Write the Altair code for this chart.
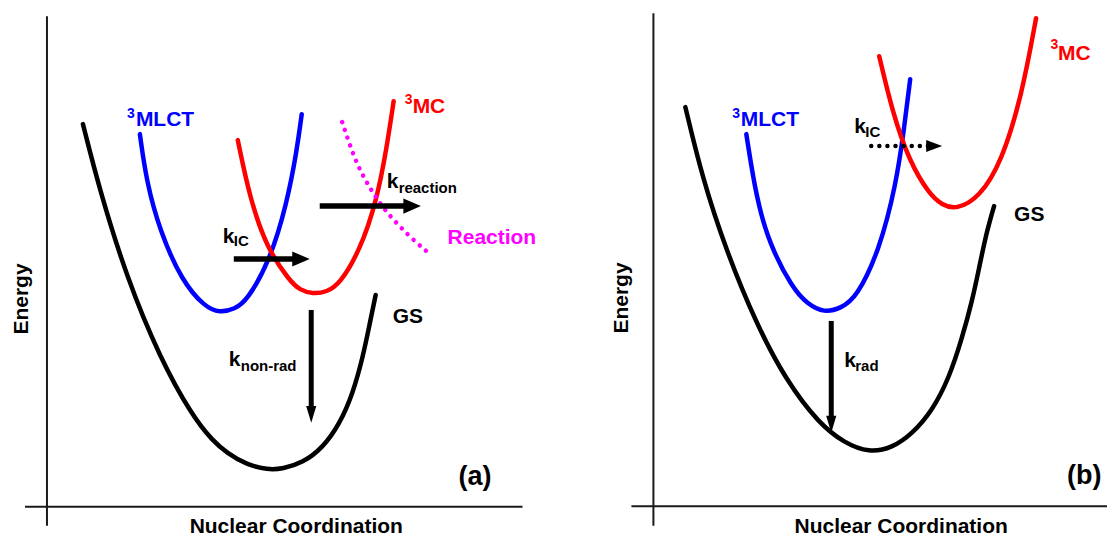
import altair as alt
import pandas as pd

# ---------------- Panel (a) values (Nuclear coordinate q, Energy e; arbitrary units) ----------------
gs_a_q = [7.2, 10.6, 16.0, 22.6, 29.2, 33.2, 36.0, 40.0, 44.2, 47.2, 51.2, 55.2, 58.6, 61.2, 63.2, 64.6, 65.8]
gs_a_e = [76.6, 63.2, 45.8, 29.8, 18.0, 13.2, 10.8, 8.4, 7.4, 7.6, 8.8, 11.8, 16.6, 22.6, 29.8, 36.6, 42.4]
mlct_a_q = [18.6, 19.9, 22.6, 27.0, 31.6, 34.6, 37.6, 40.0, 44.6, 48.0, 50.0, 51.0]
mlct_a_e = [74.6, 65.2, 55.2, 45.2, 40.0, 38.8, 39.6, 41.2, 49.2, 60.6, 71.2, 78.6]
mc_a_q = [38.2, 40.6, 44.0, 48.6, 50.6, 53.2, 56.0, 58.6, 62.6, 66.0, 68.0, 69.4]
mc_a_e = [73.4, 61.8, 51.8, 45.2, 43.4, 42.6, 43.0, 44.6, 51.2, 61.2, 71.8, 81.2]
rxn_a_q = [59.1, 60.6, 62.3, 64.6, 67.1, 70.5, 73.9, 76.3]
rxn_a_e = [77.0, 72.5, 68.0, 63.9, 60.0, 56.2, 52.9, 50.9]

# horizontal arrows: start q, tip q, e ; vertical arrows: q, start e, tip e
harrow_a_q0 = [37.4, 54.6]
harrow_a_q1 = [52.6, 75.0]
harrow_a_e = [49.6, 60.2]
varrow_a_q = [52.9]
varrow_a_e0 = [39.4]
varrow_a_e1 = [16.8]

lab_a_text = ["MLCT", "MC", "Reaction", "GS"]
lab_a_q = [17.8, 73.2, 80.2, 69.2]
lab_a_e = [76.2, 78.8, 52.6, 36.8]
lab_a_col = ["#0000ff", "#ff0000", "#ff00ff", "#000000"]
sup_a_q = [16.0, 71.6]
sup_a_e = [77.8, 80.6]
sup_a_col = ["#0000ff", "#ff0000"]
k_a_q = [35.2, 68.0, 36.4]
k_a_e = [52.8, 63.8, 28.2]
sub_a_text = ["IC", "reaction", "non-rad"]
sub_a_q = [37.4, 70.4, 38.8]
sub_a_e = [52.2, 62.8, 27.2]

# ---------------- Panel (b) values ----------------
gs_b_q = [6.4, 9.8, 14.6, 20.6, 26.6, 33.2, 38.2, 43.2, 47.8, 51.8, 55.8, 59.2, 61.8, 63.8, 65.2, 66.6, 68.2]
gs_b_e = [79.9, 65.7, 51.1, 36.5, 25.1, 16.5, 12.7, 10.7, 11.7, 14.5, 19.1, 25.7, 33.7, 41.1, 47.7, 54.5, 60.1]
mlct_b_q = [18.6, 20.6, 23.2, 27.8, 30.8, 34.2, 37.6, 40.6, 45.2, 48.6, 50.2, 51.4]
mlct_b_e = [74.5, 61.7, 52.5, 43.7, 40.5, 38.7, 39.7, 41.7, 51.1, 64.5, 75.7, 85.5]
mc_b_q = [45.2, 47.8, 51.2, 55.2, 57.8, 60.6, 65.2, 69.8, 73.8, 76.6]
mc_b_e = [90.1, 79.1, 69.1, 62.5, 60.3, 59.4, 61.7, 69.1, 82.5, 97.7]

harrow_b_q0 = [43.6]
harrow_b_q1 = [57.8]
harrow_b_e = [72.1]
varrow_b_q = [35.6]
varrow_b_e0 = [37.1]
varrow_b_e1 = [14.7]

lab_b_text = ["MLCT", "MC", "GS"]
lab_b_q = [17.5, 81.0, 72.2]
lab_b_e = [76.1, 89.4, 57.1]
lab_b_col = ["#0000ff", "#ff0000", "#000000"]
sup_b_q = [15.8, 79.5]
sup_b_e = [77.7, 91.6]
sup_b_col = ["#0000ff", "#ff0000"]
k_b_q = [40.2, 38.2]
k_b_e = [74.8, 27.9]
sub_b_text = ["IC", "rad"]
sub_b_q = [42.4, 40.4]
sub_b_e = [73.9, 27.0]

FONT = "Liberation Sans"


def panel(dx, dy, width, height, curves, harrows, varrows, labels, sups, ks, subs,
          tag, tag_pos, energy_pos, xtitle_pos, yaxis, xaxis):
    def X(f="q"):
        return alt.X(f, type="quantitative", scale=alt.Scale(domain=dx, nice=False, zero=False), axis=None)

    def Y(f="e"):
        return alt.Y(f, type="quantitative", scale=alt.Scale(domain=dy, nice=False, zero=False), axis=None)

    layers = []
    # axis lines
    ya = pd.DataFrame({"q": [0.0], "e": [yaxis[0]], "e2": [yaxis[1]]})
    layers.append(alt.Chart(ya).mark_rule(color="#1a1a1a", strokeWidth=2).encode(
        x=X(), y=Y(), y2="e2:Q"))
    xa = pd.DataFrame({"q": [xaxis[0]], "q2": [xaxis[1]], "e": [0.0]})
    layers.append(alt.Chart(xa).mark_rule(color="#1a1a1a", strokeWidth=2).encode(
        x=X(), x2="q2:Q", y=Y()))

    for q, e, col, dotted in curves:
        df = pd.DataFrame({"q": q, "e": e, "i": list(range(len(q)))})
        kw = dict(color=col, strokeWidth=4.5, interpolate="basis", strokeCap="round")
        if dotted:
            kw["strokeDash"] = [0.01, 8.2]
        layers.append(alt.Chart(df).mark_line(**kw).encode(x=X(), y=Y(), order="i:Q"))

    # horizontal arrows
    for q0, q1, e, head_len, ratio, dotted in harrows:
        shaft_end = [b - h * 0.85 for b, h in zip(q1, head_len)]
        df = pd.DataFrame({"q": q0, "q2": shaft_end, "e": e})
        if dotted:
            m = alt.Chart(df).mark_rule(color="black", strokeWidth=4.5, strokeDash=[0.01, 8.1], strokeCap="round")
        else:
            m = alt.Chart(df).mark_rule(color="black", strokeWidth=5.5)
        layers.append(m.encode(x=X(), x2="q2:Q", y=Y()))
        hd = pd.DataFrame({"q": [b - h / 2 for b, h in zip(q1, head_len)], "e": e})
        path = f"M-1,-{ratio}L1,0L-1,{ratio}Z"
        size = (head_len[0] * 5) ** 2
        layers.append(alt.Chart(hd).mark_point(shape=path, size=size, filled=True, color="black", opacity=1).encode(
            x=X(), y=Y()))

    # vertical arrows
    for q, e0, e1, head_len, ratio in varrows:
        shaft_end = [b + h * 0.85 for b, h in zip(e1, head_len)]
        df = pd.DataFrame({"q": q, "e": e0, "e2": shaft_end})
        layers.append(alt.Chart(df).mark_rule(color="black", strokeWidth=5).encode(x=X(), y=Y(), y2="e2:Q"))
        hd = pd.DataFrame({"q": q, "e": [b + h / 2 for b, h in zip(e1, head_len)]})
        path = f"M-{ratio},-1L0,1L{ratio},-1Z"
        size = (head_len[0] * 5) ** 2
        layers.append(alt.Chart(hd).mark_point(shape=path, size=size, filled=True, color="black", opacity=1).encode(
            x=X(), y=Y()))

    def texts(t, q, e, col, size, **kw):
        df = pd.DataFrame({"t": t, "q": q, "e": e, "c": col})
        return alt.Chart(df).mark_text(font=FONT, fontWeight="bold", fontSize=size, **kw).encode(
            x=X(), y=Y(), text="t:N", color=alt.Color("c:N", scale=None))

    layers.append(texts(labels[0], labels[1], labels[2], labels[3], 21, align="left", baseline="alphabetic"))
    layers.append(texts(["3"] * len(sups[0]), sups[0], sups[1], sups[2], 14, align="left", baseline="alphabetic"))
    layers.append(texts(["k"] * len(ks[0]), ks[0], ks[1], ["#000000"] * len(ks[0]), 21, align="left",
                        baseline="alphabetic"))
    layers.append(texts(subs[0], subs[1], subs[2], ["#000000"] * len(subs[0]), 15, align="left",
                        baseline="alphabetic"))
    layers.append(texts([tag], [tag_pos[0]], [tag_pos[1]], ["#000000"], 27, align="left", baseline="alphabetic"))
    layers.append(texts(["Energy"], [energy_pos[0]], [energy_pos[1]], ["#000000"], 21, align="center",
                        baseline="alphabetic", angle=270))
    layers.append(texts(["Nuclear Coordination"], [xtitle_pos[0]], [xtitle_pos[1]], ["#000000"], 21,
                        align="center", baseline="alphabetic"))

    return alt.layer(*layers).properties(width=width, height=height)


panel_a = panel(
    dx=[-7.8, 101.6], dy=[-6.4, 99.6], width=547, height=530,
    curves=[(gs_a_q, gs_a_e, "#000000", False), (mlct_a_q, mlct_a_e, "#0000ff", False),
            (mc_a_q, mc_a_e, "#ff0000", False), (rxn_a_q, rxn_a_e, "#ff00ff", True)],
    harrows=[(harrow_a_q0, harrow_a_q1, harrow_a_e, [3.5, 3.8], 0.87, False)],
    varrows=[(varrow_a_q, varrow_a_e0, varrow_a_e1, [3.4], 0.6)],
    labels=(lab_a_text, lab_a_q, lab_a_e, lab_a_col),
    sups=(sup_a_q, sup_a_e, sup_a_col),
    ks=(k_a_q, k_a_e), subs=(sub_a_text, sub_a_q, sub_a_e),
    tag="(a)", tag_pos=(82.4, 4.4), energy_pos=(-3.8, 41.6), xtitle_pos=(49.9, -5.3),
    yaxis=(-3.8, 98.2), xaxis=(-4.4, 95.2),
)

panel_b = panel(
    dx=[-19.8, 90.8], dy=[-6.5, 99.5], width=553, height=530,
    curves=[(gs_b_q, gs_b_e, "#000000", False), (mlct_b_q, mlct_b_e, "#0000ff", False),
            (mc_b_q, mc_b_e, "#ff0000", False)],
    harrows=[(harrow_b_q0, harrow_b_q1, harrow_b_e, [3.2], 0.75, True)],
    varrows=[(varrow_b_q, varrow_b_e0, varrow_b_e1, [3.4], 0.6)],
    labels=(lab_b_text, lab_b_q, lab_b_e, lab_b_col),
    sups=(sup_b_q, sup_b_e, sup_b_col),
    ks=(k_b_q, k_b_e), subs=(sub_b_text, sub_b_q, sub_b_e),
    tag="(b)", tag_pos=(82.8, 4.5), energy_pos=(-5.0, 41.7), xtitle_pos=(49.6, -5.4),
    yaxis=(-3.9, 98.7), xaxis=(-4.4, 90.8),
)

chart = alt.hconcat(panel_a, panel_b, spacing=0).properties(padding=0).configure_view(stroke=None)

chart.save("out.html", embed_options={"renderer": "svg", "actions": False})
